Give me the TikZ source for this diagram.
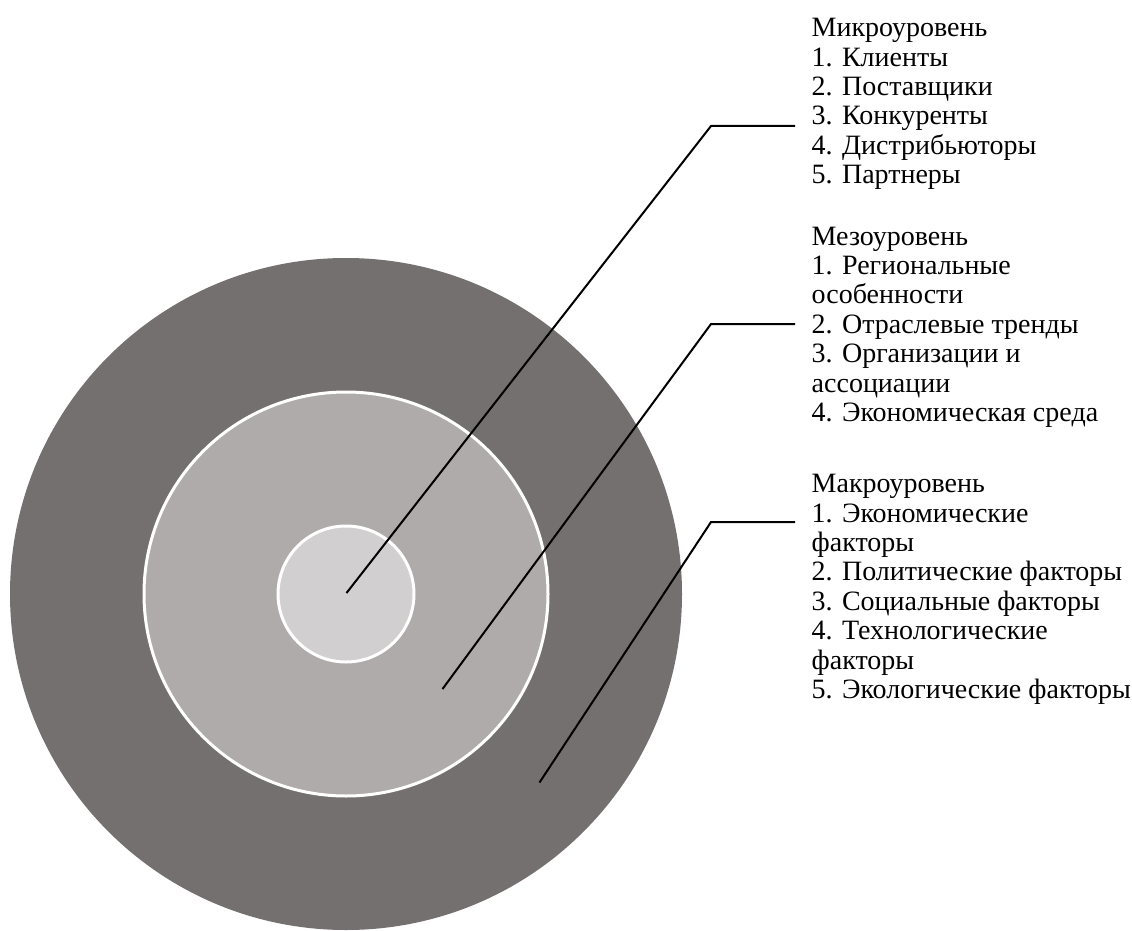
\documentclass[tikz,border=0pt]{standalone}
\usepackage{fontspec}
\setmainfont{Liberation Serif}
\definecolor{outerc}{RGB}{116,112,111}
\definecolor{midc}{RGB}{175,171,170}
\definecolor{innerc}{RGB}{209,207,208}
\begin{document}
\begin{tikzpicture}[x=1pt,y=-1pt,
  ring/.style={circle, inner sep=0pt, outer sep=0pt},
  lead/.style={draw=black, line width=2pt, line join=miter},
  lbl/.style={anchor=base west, inner sep=0pt, align=left,
    font=\fontsize{28pt}{29.4pt}\selectfont}]
\useasboundingbox (0,0) rectangle (1132,931);
\node[ring, fill=outerc, minimum size=672pt] (outer) at (346,594) {};
\node[ring, fill=midc, draw=white, line width=3pt, minimum size=404pt] (mid) at (346,594) {};
\node[ring, fill=innerc, draw=white, line width=3pt, minimum size=136pt] (inner) at (346,594) {};
% label texts (base anchor = baseline of the last line)
\node[lbl] (micro) at (811.5,183.7) {Микроуровень\\1. Клиенты\\2. Поставщики\\3. Конкуренты\\4. Дистрибьюторы\\5. Партнеры};
\node[lbl] (meso) at (811.5,421.5) {Мезоуровень\\1. Региональные\\особенности\\2. Отраслевые тренды\\3. Организации и\\ассоциации\\4. Экономическая среда};
\node[lbl] (macro) at (811.5,698.5) {Макроуровень\\1. Экономические\\факторы\\2. Политические факторы\\3. Социальные факторы\\4. Технологические\\факторы\\5. Экологические факторы};
% connector points
\coordinate (s1) at (346.5,593);
\coordinate (c1) at (711,126);
\coordinate (e1) at (795,126);
\coordinate (s2) at (442.5,689);
\coordinate (c2) at (711,324);
\coordinate (e2) at (795,324);
\coordinate (s3) at (539.5,782.5);
\coordinate (c3) at (711,522);
\coordinate (e3) at (795,522);
\draw[lead] (s1) -- (c1) -- (e1);
\draw[lead] (s2) -- (c2) -- (e2);
\draw[lead] (s3) -- (c3) -- (e3);
\end{tikzpicture}
\end{document}
